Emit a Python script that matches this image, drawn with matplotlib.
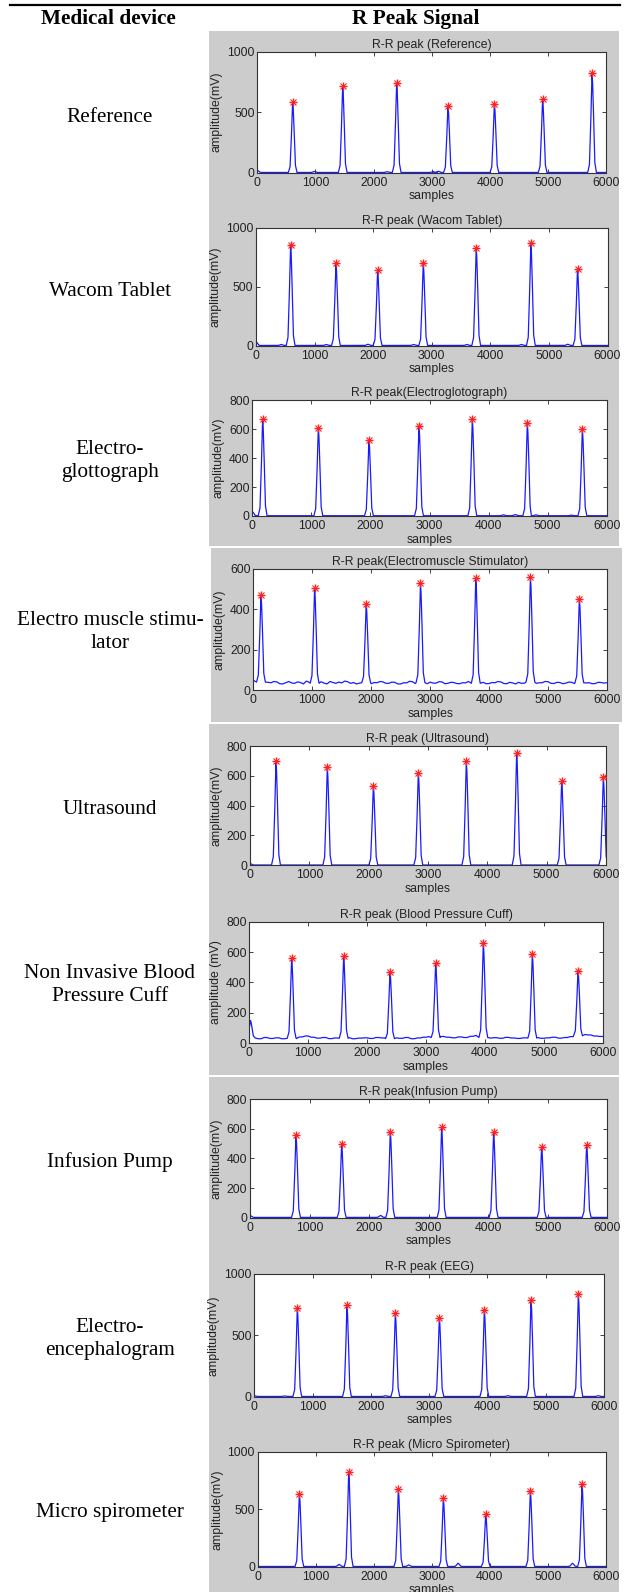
import numpy as np
import matplotlib
matplotlib.use("Agg")
import matplotlib.pyplot as plt
from matplotlib.patches import Rectangle
from matplotlib.lines import Line2D

plt.rcParams["font.family"] = ["Liberation Sans Narrow", "Liberation Sans"]

W, H = 626, 1592

# left column labels
devices = ["Reference", "Wacom Tablet", "Electro-\nglottograph",
           "Electro muscle stimu-\nlator", "Ultrasound",
           "Non Invasive Blood\nPressure Cuff", "Infusion Pump",
           "Electro-\nencephalogram", "Micro spirometer"]

titles = ["R-R peak (Reference)", "R-R peak (Wacom Tablet)",
          "R-R peak(Electroglotograph)", "R-R peak(Electromuscle Stimulator)",
          "R-R peak (Ultrasound)", "R-R peak (Blood Pressure Cuff)",
          "R-R peak(Infusion Pump)", "R-R peak (EEG)",
          "R-R peak (Micro Spirometer)"]
ylabels = ["amplitude(mV)"] * 5 + ["amplitude (mV)"] + ["amplitude(mV)"] * 3
ymax = [1000, 1000, 800, 600, 800, 800, 800, 1000, 1000]
xticks = [0, 1000, 2000, 3000, 4000, 5000, 6000]

# detected R peaks (sample, amplitude)
peaks_x = [
    [608, 1468, 2396, 3278, 4076, 4905, 5755],
    [591, 1365, 2076, 2855, 3759, 4692, 5488],
    [175, 1118, 1975, 2822, 3725, 4656, 5588],
    [130, 1040, 1915, 2836, 3774, 4701, 5531],
    [438, 1303, 2079, 2837, 3646, 4494, 5253, 5955],
    [719, 1602, 2389, 3164, 3973, 4805, 5581],
    [772, 1539, 2356, 3218, 4091, 4897, 5653],
    [738, 1590, 2420, 3175, 3947, 4748, 5560],
    [718, 1568, 2423, 3198, 3928, 4697, 5587],
]
peaks_y = [
    [582, 719, 744, 551, 570, 607, 821],
    [855, 699, 642, 699, 830, 869, 651],
    [671, 611, 525, 622, 668, 641, 599],
    [471, 503, 424, 527, 555, 559, 451],
    [697, 657, 532, 621, 697, 751, 563, 590],
    [559, 572, 471, 526, 662, 587, 478],
    [557, 497, 580, 609, 575, 479, 492],
    [723, 745, 682, 644, 709, 791, 837],
    [637, 826, 677, 596, 459, 660, 718],
]

# small bumps on the baseline (sample, amplitude)
bumps_x = [
    [0, 980, 2230, 3020, 3110],
    [0, 430, 1200, 1910, 2690, 3600, 4530, 5320],
    [0, 4250, 4450, 4800, 5400],
    [],
    [0],
    [20],
    [0, 2190],
    [0, 520, 2250, 4350, 5900],
    [1400, 2600, 3450, 5420],
]
bumps_y = [
    [20, 10, 8, 8, 12],
    [34, 10, 10, 12, 10, 10, 10, 12],
    [30, 8, 10, 8, 6],
    [],
    [12],
    [150],
    [15, 15],
    [8, 6, 8, 8, 8],
    [20, 15, 30, 30],
]

# noisy baselines (every 50 samples) for the two noisy devices
grid = list(range(0, 6001, 50))
emg_base = [48, 40, 30, 45, 52, 38, 36, 42, 40, 31, 30, 36, 42, 35, 33, 40,
            37, 30, 44, 38, 35, 33, 38, 41, 34, 30, 42, 37, 33, 39, 35, 44,
            41, 33, 37, 30, 34, 40, 38, 31, 31, 37, 36, 42, 40, 33, 33, 39,
            38, 30, 30, 36, 35, 43, 41, 32, 32, 38, 36, 31, 39, 34, 34, 41,
            40, 31, 33, 38, 37, 32, 31, 36, 35, 42, 41, 33, 34, 39, 38, 31,
            32, 37, 36, 42, 40, 32, 31, 38, 35, 30, 38, 33, 34, 40, 39, 31,
            33, 36, 36, 42, 41, 33, 32, 38, 37, 31, 34, 39, 38, 32, 33, 37,
            40, 35, 36, 31, 32, 38, 37, 34, 36]
bpc_base = [40, 35, 35, 30, 30, 38, 38, 32, 32, 36, 36, 30, 30, 34, 34, 31,
            31, 42, 42, 48, 48, 40, 40, 34, 34, 38, 38, 31, 31, 35, 35, 33,
            33, 37, 37, 30, 30, 34, 34, 36, 36, 32, 32, 38, 38, 35, 35, 31,
            31, 36, 36, 33, 33, 38, 38, 30, 30, 35, 35, 40, 40, 44, 44, 38,
            38, 45, 45, 40, 40, 36, 36, 42, 42, 38, 38, 46, 46, 52, 52, 38,
            38, 34, 34, 37, 37, 33, 33, 39, 39, 35, 35, 32, 32, 36, 36, 34,
            34, 38, 38, 33, 33, 36, 36, 40, 40, 34, 34, 38, 38, 44, 44, 50,
            50, 58, 58, 55, 55, 48, 48, 45, 45]
base_x = [[0, 6000], [0, 6000], [0, 6000], grid, [0, 6000], grid,
          [0, 6000], [0, 6000], [0, 6000]]
base_y = [[2, 2], [2, 2], [2, 2], emg_base, [2, 2], bpc_base,
          [2, 2], [2, 2], [2, 2]]

# spike shape (offset in samples, fraction of height)
spike_off = [-75, -45, -20, -7, 0, 10, 25, 48, 75]
spike_frac = [0.0, 0.08, 0.55, 0.85, 1.0, 0.9, 0.6, 0.1, 0.0]

# layout in pixels: axes top, bottom, left, right
axes_px = [
    (51.7, 172.7, 257.3, 606.3),
    (227.7, 345.7, 256.0, 607.5),
    (400.3, 516.0, 252.3, 606.7),
    (568.7, 690.0, 253.3, 607.0),
    (746.0, 865.3, 250.0, 606.0),
    (921.7, 1043.3, 249.3, 602.7),
    (1099.0, 1217.7, 250.0, 607.3),
    (1274.0, 1396.7, 254.3, 604.0),
    (1452.0, 1566.7, 257.7, 606.0),
]
# grey cell blocks: top, bottom, left, right
grey_px = [(31, 546, 209, 619), (548, 722, 211, 622),
           (724, 1075, 209, 619), (1077, 1592, 209, 619)]
label_y = [117, 292, 461, 632, 809, 985, 1162, 1339, 1512]


def trace(px, py, bx, by):
    bx = np.asarray(bx, float)
    by = np.asarray(by, float)
    xs, ys = [], []
    for x, y in zip(bx, by):
        if all(abs(x - p) > 77 for p in px):
            xs.append(x)
            ys.append(y)
    for p, h in zip(px, py):
        b = np.interp(p, bx, by)
        for o, f in zip(spike_off, spike_frac):
            xs.append(p + o)
            ys.append(b + f * (h - b))
    order = np.argsort(xs, kind="stable")
    return np.array(xs)[order], np.array(ys)[order]


fig = plt.figure(figsize=(W / 100, H / 100), dpi=100)

for top, bot, left, right in grey_px:
    fig.add_artist(Rectangle((left / W, 1 - bot / H), (right - left) / W,
                             (bot - top) / H, transform=fig.transFigure,
                             facecolor="#cccccc", edgecolor="none", zorder=-5))

fig.add_artist(Line2D([10 / W, 620 / W], [1 - 5 / H, 1 - 5 / H],
                      transform=fig.transFigure, color="black", lw=1.6))
serif = ["Liberation Serif", "DejaVu Serif"]
fig.text(108 / W, 1 - 19 / H, "Medical device", family=serif, fontsize=15.3,
         weight="bold", ha="center", va="center")
fig.text(416 / W, 1 - 19 / H, "R Peak Signal", family=serif, fontsize=15.3,
         weight="bold", ha="center", va="center")

for i in range(9):
    top, bot, left, right = axes_px[i]
    ax = fig.add_axes([left / W, 1 - bot / H, (right - left) / W, (bot - top) / H])
    ax.set_facecolor("white")
    tx, ty = trace(peaks_x[i] + bumps_x[i], peaks_y[i] + bumps_y[i],
                   base_x[i], base_y[i])
    ax.plot(tx, ty, color="#1a1aff", lw=0.9, zorder=2)
    ax.plot(peaks_x[i], peaks_y[i], linestyle="none", marker="+", ms=6,
            mew=1.0, color="#ff2020", zorder=3)
    ax.plot(peaks_x[i], peaks_y[i], linestyle="none", marker="x", ms=4,
            mew=0.8, color="#ff2020", zorder=3)
    ax.set_xlim(0, 6000)
    ax.set_ylim(0, ymax[i])
    ax.set_xticks(xticks)
    step = 500 if ymax[i] == 1000 else 200
    ax.set_yticks(np.arange(0, ymax[i] + 1, step))
    ax.tick_params(direction="in", top=True, right=True, length=3, width=0.6,
                   labelsize=8.8, pad=2, colors="#222222")
    ax.tick_params(axis="x", pad=3)
    for sp in ax.spines.values():
        sp.set_color("#333333")
        sp.set_linewidth(0.8)
    ax.set_title(titles[i], fontsize=8.8, color="#222222", pad=3)
    ax.set_xlabel("samples", fontsize=8.8, color="#222222", labelpad=1)
    ax.set_ylabel(ylabels[i], fontsize=8.8, color="#222222", labelpad=3)

    fig.text(110 / W, 1 - label_y[i] / H, devices[i], family=serif,
             fontsize=15.3, ha="center", va="center", linespacing=1.3)

fig.savefig("out.png", dpi=100)
